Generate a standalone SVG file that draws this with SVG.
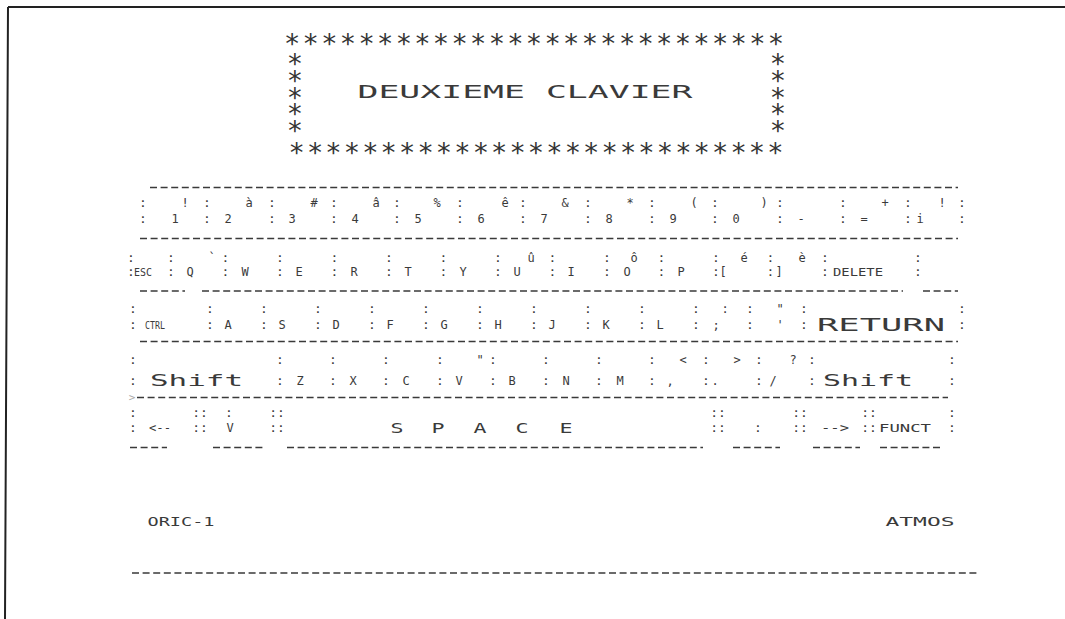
<svg xmlns="http://www.w3.org/2000/svg" width="1065" height="619" viewBox="0 0 1065 619">
<style>
text{font-family:"DejaVu Sans Mono","Liberation Mono",monospace;fill:#3a3a3a;text-anchor:middle}
.t{font-size:12px}
.c{font-size:13px}
.a{font-size:27px;fill:#333}
.v{font-size:27px;fill:#333;writing-mode:tb;text-orientation:upright;text-anchor:start;letter-spacing:-14.25px}
.x{font-size:11px}
.d{stroke:#3a3a3a;stroke-width:1.6;stroke-dasharray:7 3.6;fill:none}
.f{stroke:#222;stroke-width:2;fill:none}
</style>
<rect width="1065" height="619" fill="#fff"/>
<g id="frame"><path class="f" d="M8,7 H1065 M8,7 L5,619"/></g>

<g id="title">
<text class="a" x="534" y="53" textLength="500" lengthAdjust="spacing">***************************</text>
<text class="v" x="295" y="48">*****</text>
<text class="v" x="778" y="48">*****</text>
<text class="a" x="536" y="162" textLength="495" lengthAdjust="spacing">***************************</text>
<text x="525" y="98" style="font-size:17px" textLength="335" lengthAdjust="spacingAndGlyphs">DEUXIEME  CLAVIER</text>
</g>

<g id="connectors">
<path class="d" d="M150,187.5H958 M140,238.5H958 M140,291H185 M202,291H903 M923,291H958 M140,341.5H958 M137,397.5H948 M130,447.5H167 M213,447.5H263 M287,447.5H703 M733,447.5H780 M813,447.5H860 M880,447.5H943"/>
<path class="d" d="M132,573H978"/>
</g>

<g id="row-numbers">
<g class="c">
<text x="143" y="207">:</text><text x="207" y="207">:</text><text x="272" y="207">:</text><text x="334" y="207">:</text><text x="397" y="207">:</text><text x="460" y="207">:</text><text x="523" y="207">:</text><text x="588" y="207">:</text><text x="652" y="207">:</text><text x="715" y="207">:</text><text x="780" y="207">:</text><text x="843" y="207">:</text><text x="908" y="207">:</text><text x="962" y="207">:</text>
<text x="143" y="223">:</text><text x="207" y="223">:</text><text x="272" y="223">:</text><text x="334" y="223">:</text><text x="397" y="223">:</text><text x="460" y="223">:</text><text x="523" y="223">:</text><text x="588" y="223">:</text><text x="652" y="223">:</text><text x="715" y="223">:</text><text x="780" y="223">:</text><text x="843" y="223">:</text><text x="908" y="223">:</text><text x="962" y="223">:</text>
</g>
<g class="t">
<text x="185" y="207">!</text><text x="249" y="207">à</text><text x="314" y="207">#</text><text x="376" y="207">â</text><text x="437" y="207">%</text><text x="505" y="207">ê</text><text x="565" y="207">&amp;</text><text x="630" y="207">*</text><text x="694" y="207">(</text><text x="764" y="207">)</text><text x="885" y="207">+</text><text x="942" y="207">!</text>
<text x="175" y="223">1</text><text x="228" y="223">2</text><text x="292" y="223">3</text><text x="355" y="223">4</text><text x="418" y="223">5</text><text x="481" y="223">6</text><text x="544" y="223">7</text><text x="609" y="223">8</text><text x="673" y="223">9</text><text x="736" y="223">0</text><text x="801" y="223">-</text><text x="864" y="223">=</text><text x="920" y="223">i</text>
</g>
</g>

<g id="row-q">
<g class="c">
<text x="131" y="262">:</text><text x="171" y="262">:</text><text x="225.5" y="262">:</text><text x="280" y="262">:</text><text x="334.5" y="262">:</text><text x="389" y="262">:</text><text x="443.5" y="262">:</text><text x="498" y="262">:</text><text x="552.5" y="262">:</text><text x="607" y="262">:</text><text x="661.5" y="262">:</text><text x="716" y="262">:</text><text x="770.5" y="262">:</text><text x="825" y="262">:</text><text x="918" y="262">:</text>
<text x="131" y="276">:</text><text x="171" y="276">:</text><text x="225.5" y="276">:</text><text x="280" y="276">:</text><text x="334.5" y="276">:</text><text x="389" y="276">:</text><text x="443.5" y="276">:</text><text x="498" y="276">:</text><text x="552.5" y="276">:</text><text x="607" y="276">:</text><text x="661.5" y="276">:</text><text x="716" y="276">:</text><text x="770.5" y="276">:</text><text x="825" y="276">:</text><text x="918" y="276">:</text>
</g>
<g class="t">
<text x="212" y="262">`</text><text x="531" y="262">û</text><text x="634" y="262">ô</text><text x="744" y="262">é</text><text x="802" y="262">è</text>
<text class="x" x="143" y="276" textLength="18" lengthAdjust="spacingAndGlyphs">ESC</text>
<text x="190" y="276">Q</text><text x="245" y="276">W</text><text x="299" y="276">E</text><text x="354" y="276">R</text><text x="408" y="276">T</text><text x="463" y="276">Y</text><text x="517" y="276">U</text><text x="571" y="276">I</text><text x="627" y="276">O</text><text x="681" y="276">P</text><text x="723" y="276">[</text><text x="779" y="276">]</text>
<text class="x" x="858" y="276" textLength="50" lengthAdjust="spacingAndGlyphs">DELETE</text>
</g>
</g>

<g id="row-a">
<g class="c">
<text x="133" y="313">:</text><text x="210" y="313">:</text><text x="264" y="313">:</text><text x="318" y="313">:</text><text x="372" y="313">:</text><text x="426" y="313">:</text><text x="480" y="313">:</text><text x="534" y="313">:</text><text x="588" y="313">:</text><text x="642" y="313">:</text><text x="696" y="313">:</text><text x="750" y="313">:</text><text x="804" y="313">:</text><text x="962" y="313">:</text>
<text x="133" y="329">:</text><text x="210" y="329">:</text><text x="264" y="329">:</text><text x="318" y="329">:</text><text x="372" y="329">:</text><text x="426" y="329">:</text><text x="480" y="329">:</text><text x="534" y="329">:</text><text x="588" y="329">:</text><text x="642" y="329">:</text><text x="696" y="329">:</text><text x="750" y="329">:</text><text x="804" y="329">:</text><text x="962" y="329">:</text>
</g>
<g class="t">
<text x="725" y="313">:</text><text x="780" y="313">"</text>
<text class="x" x="155" y="329" textLength="20" lengthAdjust="spacingAndGlyphs">CTRL</text>
<text x="228" y="329">A</text><text x="282" y="329">S</text><text x="336" y="329">D</text><text x="390" y="329">F</text><text x="444" y="329">G</text><text x="498" y="329">H</text><text x="552" y="329">J</text><text x="606" y="329">K</text><text x="660" y="329">L</text><text x="716" y="329">;</text><text x="780" y="329">'</text>
<text x="881" y="331" style="font-size:17px" textLength="128" lengthAdjust="spacingAndGlyphs">RETURN</text>
</g>
</g>

<g id="row-z">
<g class="c">
<text x="133" y="364">:</text><text x="280" y="364">:</text><text x="333" y="364">:</text><text x="386" y="364">:</text><text x="440" y="364">:</text><text x="493" y="364">:</text><text x="546" y="364">:</text><text x="599" y="364">:</text><text x="652" y="364">:</text><text x="706" y="364">:</text><text x="759" y="364">:</text><text x="812" y="364">:</text><text x="952" y="364">:</text>
<text x="133" y="385">:</text><text x="280" y="385">:</text><text x="333" y="385">:</text><text x="386" y="385">:</text><text x="440" y="385">:</text><text x="493" y="385">:</text><text x="546" y="385">:</text><text x="599" y="385">:</text><text x="652" y="385">:</text><text x="706" y="385">:</text><text x="759" y="385">:</text><text x="812" y="385">:</text><text x="952" y="385">:</text>
</g>
<g class="t">
<text x="480" y="364">"</text><text x="683" y="364">&lt;</text><text x="737" y="364">&gt;</text><text x="793" y="364">?</text>
<text x="196.5" y="386" style="font-size:15px" textLength="93" lengthAdjust="spacingAndGlyphs">Shift</text>
<text x="300" y="385">Z</text><text x="353" y="385">X</text><text x="406" y="385">C</text><text x="459" y="385">V</text><text x="512" y="385">B</text><text x="566" y="385">N</text><text x="620" y="385">M</text><text x="670" y="385">,</text><text x="715" y="385">.</text><text x="773" y="385">/</text>
<text x="868" y="386" style="font-size:15px" textLength="90" lengthAdjust="spacingAndGlyphs">Shift</text>
</g>
<text x="132" y="401" style="font-size:11px;fill:#aaa">&gt;</text>
</g>

<g id="row-space">
<g class="c">
<text x="133" y="417">:</text><text x="200" y="417">::</text><text x="229" y="417">:</text><text x="277" y="417">::</text><text x="718" y="417">::</text><text x="800" y="417">::</text><text x="869" y="417">::</text><text x="952" y="417">:</text>
<text x="133" y="432">:</text><text x="200" y="432">::</text><text x="277" y="432">::</text><text x="718" y="432">::</text><text x="758" y="432">:</text><text x="800" y="432">::</text><text x="869" y="432">::</text><text x="952" y="432">:</text>
</g>
<g class="t">
<text x="160" y="432" textLength="22" lengthAdjust="spacingAndGlyphs">&lt;--</text>
<text x="230" y="432">V</text>
<text x="397" y="433" style="font-size:14px" textLength="13" lengthAdjust="spacingAndGlyphs">S</text>
<text x="438" y="433" style="font-size:14px" textLength="13" lengthAdjust="spacingAndGlyphs">P</text>
<text x="480" y="433" style="font-size:14px" textLength="13" lengthAdjust="spacingAndGlyphs">A</text>
<text x="522" y="433" style="font-size:14px" textLength="13" lengthAdjust="spacingAndGlyphs">C</text>
<text x="566" y="433" style="font-size:14px" textLength="13" lengthAdjust="spacingAndGlyphs">E</text>
<text x="835" y="432" textLength="28" lengthAdjust="spacingAndGlyphs">--&gt;</text>
<text class="x" x="905" y="432" textLength="52" lengthAdjust="spacingAndGlyphs">FUNCT</text>
</g>
</g>

<g id="footer">
<text x="181" y="526" style="font-size:13px" textLength="67" lengthAdjust="spacingAndGlyphs">ORIC-1</text>
<text x="920" y="526" style="font-size:13px" textLength="69" lengthAdjust="spacingAndGlyphs">ATMOS</text>
</g>
</svg>
